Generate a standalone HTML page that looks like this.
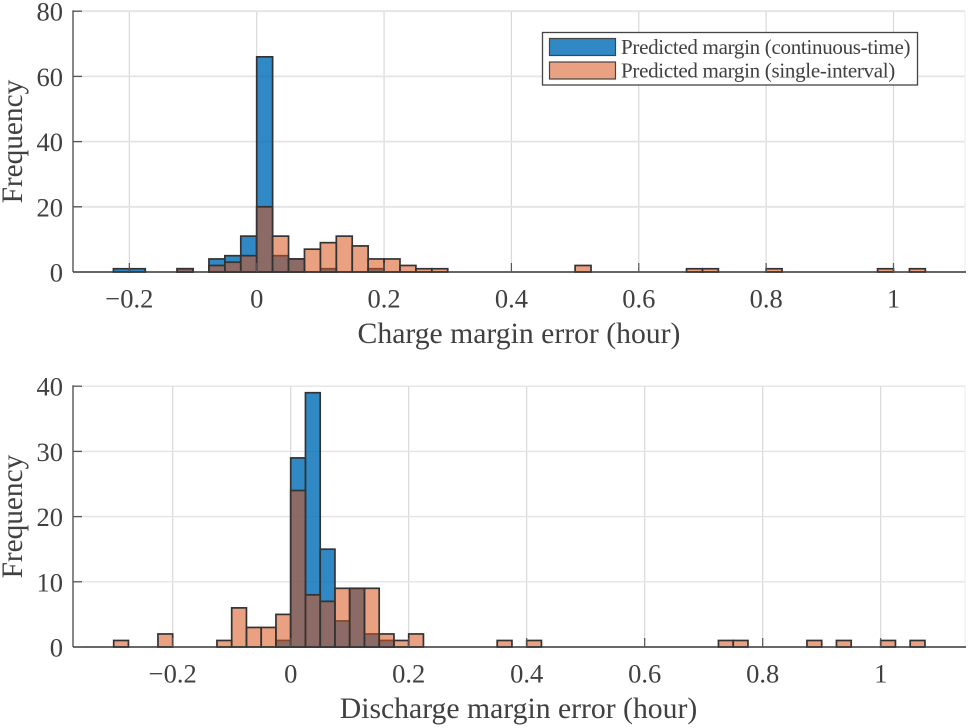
<!DOCTYPE html>
<html lang="en">
<head>
<meta charset="utf-8">
<title>Margin error histograms</title>
<style>
html,body{margin:0;padding:0;background:#fff;}
svg{display:block;}
text{font-family:"Liberation Serif",serif;fill:#404040;}
</style>
</head>
<body>
<svg id="chart" width="971" height="728" viewBox="0 0 971 728" xmlns="http://www.w3.org/2000/svg"></svg>
<script>
const binWidth = 0.025;

const chargeBinStarts = [-0.225,-0.2,-0.125,-0.075,-0.05,-0.025,0,0.025,0.05,0.075,0.1,0.125,0.15,0.175,0.2,0.225,0.25,0.275,0.5,0.675,0.7,0.8,0.975,1.025];
const chargeContinuous = [1,1,1,4,5,11,66,5,4,0,1,0,0,1,0,0,0,0,0,0,0,0,0,0];
const chargeSingle = [0,0,1,2,3,5,20,11,4,7,9,11,8,4,4,2,1,1,2,1,1,1,1,1];

const dischargeBinStarts = [-0.3,-0.225,-0.125,-0.1,-0.075,-0.05,-0.025,0,0.025,0.05,0.075,0.1,0.125,0.15,0.175,0.2,0.35,0.4,0.725,0.75,0.875,0.925,1,1.05];
const dischargeContinuous = [0,0,0,0,0,0,1,29,39,15,4,9,2,1,0,0,0,0,0,0,0,0,0,0];
const dischargeSingle = [1,2,1,6,3,3,5,24,8,7,9,9,9,2,1,2,1,1,1,1,1,1,1,1];

const chargeXTicks = [-0.2,0,0.2,0.4,0.6,0.8,1];
const dischargeXTicks = [-0.2,0,0.2,0.4,0.6,0.8,1];
const chargeYTicks = [0,20,40,60,80];
const dischargeYTicks = [0,10,20,30,40];
const legendLabels = ["Predicted margin (continuous-time)","Predicted margin (single-interval)"];

const NS = "http://www.w3.org/2000/svg";
const root = document.getElementById("chart");
const BLUE = "rgba(0,108,184,0.81)";
const ORANGE = "rgba(217,83,25,0.55)";
const EDGE = "#333333";

function mk(parent, tag, attrs, txt){
  const el = document.createElementNS(NS, tag);
  for (const k in attrs) el.setAttribute(k, attrs[k]);
  if (txt !== undefined) el.textContent = txt;
  parent.appendChild(el);
  return el;
}
function fmt(v){
  if (v === 0) return "0";
  return (v < 0 ? "\u2212" : "") + String(Math.abs(v));
}

function drawPanel(cfg){
  const g = mk(root, "g", {});
  
  
  const L = 73, R = 965;
  const sx = v => cfg.x0 + cfg.pxPerX * v;
  const sy = v => cfg.yBase - cfg.pxPerY * v;
  const topY = sy(cfg.yMax);

  // grid
  const grid = mk(g, "g", {});
  
  
  cfg.xTicks.forEach(t => {
    const line = mk(grid, "line", {x1:sx(t), x2:sx(t), y1:topY, y2:cfg.yBase, stroke:"#d8d8d8", "stroke-width":1.2});
    
    
  });
  cfg.yTicks.forEach(t => {
    const line = mk(grid, "line", {x1:L, x2:R, y1:sy(t), y2:sy(t), stroke:"#e4e4e4", "stroke-width":cfg.gridH});
    
    
  });
  const edge = mk(grid, "line", {x1:R, x2:R, y1:topY, y2:cfg.yBase, stroke:"#eeeeee", "stroke-width":1.2});
  
  

  // series
  function series(values, fill, seriesName){
    const s = mk(g, "g", {});
    
    
    cfg.bins.forEach((b, i) => {
      const v = values[i];
      if (!v) return;
      const x1 = sx(b), x2 = sx(b + binWidth);
      const r = mk(s, "rect", {x:x1, y:sy(v), width:x2 - x1, height:cfg.yBase - sy(v), fill:fill, stroke:EDGE, "stroke-width":1.7});
      
      
    });
  }
  series(cfg.continuous, BLUE, "series-continuous-time");
  series(cfg.single, ORANGE, "series-single-interval");

  // axes
  const yAxis = mk(g, "line", {x1:L, x2:L, y1:topY - 1, y2:cfg.yBase, stroke:"#7a7a7a", "stroke-width":1.8});
  
  
  const xAxis = mk(g, "line", {x1:L, x2:R + 1, y1:cfg.yBase, y2:cfg.yBase, stroke:"#3a3a3a", "stroke-width":1.5});
  
  

  cfg.yTicks.forEach(t => {
    const tick = mk(g, "line", {x1:L, x2:L + 9, y1:sy(t), y2:sy(t), stroke:"#555555", "stroke-width":1.3});
    
    
    const lab = mk(g, "text", {x:63, y:sy(t) + 9.5, "text-anchor":"end", "font-size":26.5}, fmt(t));
    
    
  });
  cfg.xTicks.forEach(t => {
    const tick = mk(g, "line", {x1:sx(t), x2:sx(t), y1:cfg.yBase, y2:cfg.yBase - 9, stroke:"#555555", "stroke-width":1.2});
    
    
    const lab = mk(g, "text", {x:sx(t), y:cfg.yBase + 35.5, "text-anchor":"middle", "font-size":26.5}, fmt(t));
    
    
  });

  const xt = mk(g, "text", {x:cfg.xLabelX, y:cfg.yBase + 71, "text-anchor":"middle", "font-size":29.7}, cfg.xLabel);
  
  
  const cy = (topY + cfg.yBase) / 2;
  const yt = mk(g, "text", {x:0, y:0, "text-anchor":"middle", "font-size":29.3, transform:"translate(22 " + cy + ") rotate(-90)"}, "Frequency");
  
  
}

drawPanel({name:"charge-margin-panel", x0:256.7, pxPerX:636.8, yBase:272, pxPerY:3.26, yMax:80,
  bins:chargeBinStarts, continuous:chargeContinuous, single:chargeSingle,
  xTicks:chargeXTicks, yTicks:chargeYTicks, gridH:1.8, xLabel:"Charge margin error (hour)", xLabelX:519});
drawPanel({name:"discharge-margin-panel", x0:290.7, pxPerX:590, yBase:647, pxPerY:6.52, yMax:40,
  bins:dischargeBinStarts, continuous:dischargeContinuous, single:dischargeSingle,
  xTicks:dischargeXTicks, yTicks:dischargeYTicks, gridH:1.4, xLabel:"Discharge margin error (hour)", xLabelX:518.5});

// legend
const legend = mk(root, "g", {});


const legendBox = mk(legend, "rect", {x:542.5, y:32.5, width:375, height:52.5, fill:"#ffffff", stroke:"#444444", "stroke-width":1.3});


const legendFills = ["rgba(0,108,184,0.81)", "rgba(217,83,25,0.55)"];
legendLabels.forEach((label, i) => {
  const y = 38.5 + i * 23.5;
  const sw = mk(legend, "rect", {x:549.5, y:y, width:66, height:17, fill:legendFills[i], stroke:"#444444", "stroke-width":1.2});
  
  
  const t = mk(legend, "text", {x:621, y:y + 15.5, "font-size":21, "letter-spacing":-0.3}, label);
  
  
});
</script>
</body>
</html>
